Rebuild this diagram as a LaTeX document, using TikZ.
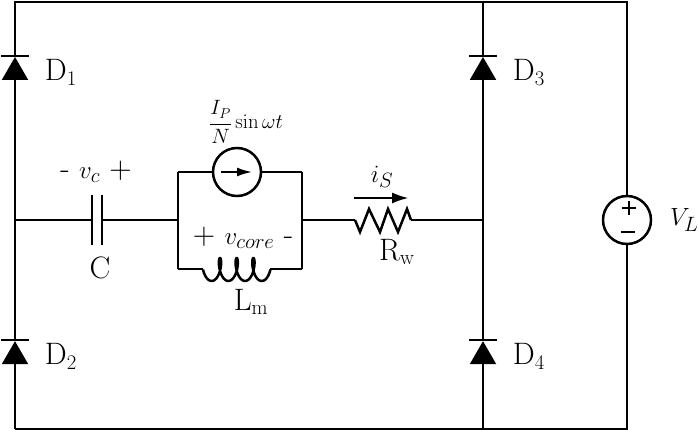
\documentclass[tikz,border=0pt]{standalone}
\usepackage{tikz}
\usetikzlibrary{shapes.geometric, arrows.meta, positioning, calc}

\begin{document}
\begin{tikzpicture}[x=1pt, y=-1pt, node distance = 4pt and 10pt, line width=2.5pt, font=\fontsize{31}{34}\selectfont]
\tikzstyle{source} = [circle, minimum size = 48pt, inner sep=0, outer sep=0, draw = black]
\tikzstyle{diode} = [regular polygon, regular polygon sides=3, minimum size = 30.6pt, inner sep=0, outer sep=0, fill = black]
\tikzstyle{label} = [inner sep=0, outer sep=0]
\tikzstyle{connect} = [-{Latex[length=16pt, width=11pt]}, line width=1.2pt]
\tikzstyle{inner} = [-{Latex[length=15pt, width=9pt]}, line width=2pt]
\useasboundingbox (0,0) rectangle (699,430);
% corners and junctions
  \coordinate (tl) at (15,2);
  \coordinate (tm) at (483,2);
  \coordinate (tr) at (627,2);
  \coordinate (bl) at (15,429);
  \coordinate (bm) at (483,429);
  \coordinate (br) at (627,429);
  \coordinate (ml) at (15,220);
  \coordinate (mm) at (483,220);
  \coordinate (capl) at (92,220);
  \coordinate (capr) at (102,220);
  \coordinate (parl) at (178,220);
  \coordinate (parr) at (302,220);
  \coordinate (ptl) at (178,172);
  \coordinate (ptr) at (302,172);
  \coordinate (pbl) at (178,269);
  \coordinate (pbr) at (302,269);
  \coordinate (indl) at (203,269);
  \coordinate (indr) at (270.4,269);
  \coordinate (resl) at (355,220);
  \coordinate (resr) at (411,220);
% diodes and sources
  \node[diode] (d1) at (15,72.3) {};
  \node[diode] (d2) at (15,356.5) {};
  \node[diode] (d3) at (483,72.3) {};
  \node[diode] (d4) at (483,356.5) {};
  \node[source] (ip) at (237,172) {};
  \node[source] (vl) at (627,220) {};
% wires
  \draw (bl) -- (d2) -- (ml) -- (d1) -- (tl) -- (tr) -- (vl) -- (br) -- (bl);
  \draw (tm) -- (d3) -- (mm) -- (d4) -- (bm);
  \draw (ml) -- (capl) (capr) -- (parl) (pbl) -- (ptl) (ptr) -- (pbr);
  \draw (ptl) -- (ip) -- (ptr) (pbl) -- (indl) (indr) -- (pbr);
  \draw (parr) -- (resl) (resr) -- (mm);
% diode bars
  \foreach \d in {d1,d2,d3,d4}
    \draw (\d.corner 1) ++(-14,-1) -- ++(28,0);
% capacitor plates
  \draw (capl) ++(0,-25) -- ++(0,50) (capr) ++(0,-25) -- ++(0,50);
% inductor and resistor
  \draw plot[domain=-270:990, samples=120, smooth] ({220+\x/360*16.7-4.5*sin(\x)},{269.5-11.5*cos(\x)});
  \draw[line join=miter] (resl) -- ++(5,12) -- ++(9,-23) -- ++(11,23) -- ++(8,-23) -- ++(10,23) -- ++(9,-23) -- (resr);
% source symbols
  \draw[inner] ($(ip)+(-16,0)$) -- ($(ip)+(15,0)$);
  \draw ($(vl)+(-5,-12)$) -- ($(vl)+(9,-12)$) ($(vl)+(2,-19)$) -- ($(vl)+(2,-5)$);
  \draw ($(vl)+(-6,12)$) -- ($(vl)+(8,12)$);
% current arrow
  \coordinate (il) at (354,198);
  \coordinate (ir) at (408,198);
  \draw[connect] (il) -- (ir);
% labels
  \node[label, right=21pt of d1] (l1) {D$_1$};
  \node[label, right=21pt of d2] (l2) {D$_2$};
  \node[label, right=21pt of d3] (l3) {D$_3$};
  \node[label, right=21pt of d4] (l4) {D$_4$};
  \node[label] (lc) at (96,172) {- $v_c$ +};
  \node[label] (lcc) at (100,268) {C};
  \node[label] (lv) at (243,238) {+ $v_{core}$ -};
  \node[label] (lm) at (251,302) {L$_{\rm m}$};
  \node[label] (lr) at (397,252) {R$_{\rm w}$};
  \node[label] (li) at (382,177) {$i_S$};
  \node[label, right=19pt of vl] (lvl) {$V_L$};
  \node[label, font=\fontsize{20}{24}\selectfont] (lp) at (246,122) {$\displaystyle\frac{I_P}{N}\sin\omega t$};
\end{tikzpicture}
\end{document}
